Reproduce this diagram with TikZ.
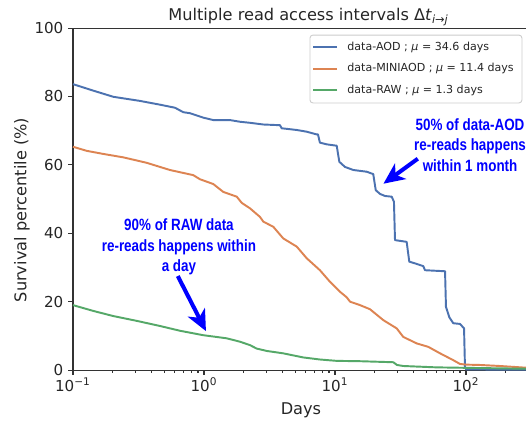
\documentclass[tikz,border=0pt]{standalone}
\usepackage{fontspec}
\setmainfont{DejaVu Sans}
\newfontfamily\notefont[FakeStretch=0.82]{Liberation Sans}
\usetikzlibrary{arrows.meta}

\definecolor{aodblue}{HTML}{4C72B0}
\definecolor{miniorange}{HTML}{DD8452}
\definecolor{rawgreen}{HTML}{55A868}
\definecolor{noteblue}{HTML}{0000FF}

\begin{document}
\begin{tikzpicture}[x=2.62cm, y=0.0684cm,
	spine/.style={draw=black!80, line width=0.6pt},
	curve/.style={line width=1.1pt, line join=round},
	ticklabel/.style={font=\fontsize{8.6}{10}\selectfont, text=black!85},
	axislabel/.style={font=\fontsize{9.2}{11}\selectfont, text=black!85},
	keytext/.style={anchor=west, inner sep=0pt, font=\fontsize{6.3}{7.5}\selectfont, text=black!85},
	note/.style={align=center, text=noteblue, font=\notefont\bfseries\fontsize{9.3}{11.7}\selectfont},
	notearrow/.style={draw=noteblue, line width=2.3pt, -{Stealth[length=0.42cm, width=0.38cm, inset=0.12cm]}}]
	\useasboundingbox[fill=white] (-0.557,-15.2) rectangle (3.458,108.2);

	% axes frame
	\draw[spine] (3.458,100) -- (0,100) -- (0,0) -- (3.458,0);
	\foreach \y in {0,20,...,100}{
		\draw[spine] (0,\y) -- ++(-0.1cm,0);
		\node[ticklabel, anchor=east, inner sep=1pt] (ytick\y) at ([xshift=-0.15cm]0,\y) {\y};
	}
	\foreach \e/\lab in {0/−1,1/0,2/1,3/2}{
		\draw[spine] (\e,0) -- ++(0,-0.1cm);
		\node[ticklabel, anchor=base, inner sep=0pt] (xtick\e) at (\e,-6.4) {10\textsuperscript{\lab}};
	}
	\foreach \d in {0,1,2,3}
		\foreach \k in {2,...,9}
			\draw[spine] ({\d+log10(\k)},0) -- ++(0,-0.06cm);

	\node[axislabel, anchor=base] (days) at (1.740,-12.87) {Days};
	\node[axislabel, rotate=90] (surv) at (-0.389,46.8) {Survival percentile (\%)};
	\node[axislabel, anchor=base] (title) at (1.798,102.3) {Multiple read access intervals Δ\textit{t}\textsubscript{\textit{i}→\textit{j}}};

	% survival curves
	\draw[curve, aodblue] plot coordinates {(0,83.6) (0.155,81.7) (0.308,79.9) (0.511,78.7) (0.664,77.6) (0.779,76.7) (0.842,75.4) (0.893,75.1) (0.995,73.8) (1.071,73.1) (1.198,73.1) (1.275,72.6) (1.351,72.3) (1.453,71.8) (1.580,71.6) (1.593,70.7) (1.708,70.2) (1.784,69.7) (1.860,68.9) (1.870,68.9) (1.885,66.5) (1.937,66.0) (2.013,65.6) (2.033,60.9) (2.076,59.4) (2.140,58.5) (2.242,58.0) (2.292,57.3) (2.311,52.6) (2.344,51.5) (2.382,50.9) (2.433,50.7) (2.450,49.2) (2.458,38.0) (2.547,37.5) (2.567,31.7) (2.611,31.2) (2.674,30.4) (2.687,29.2) (2.840,28.9) (2.847,18.5) (2.873,15.4) (2.903,13.7) (2.954,13.5) (2.985,12.2) (2.992,1.0) (3.0,0.2) (3.458,0.1)};
	\draw[curve, miniorange] plot coordinates {(0,65.3) (0.105,64.1) (0.231,63.2) (0.384,62.2) (0.563,60.6) (0.664,59.4) (0.740,58.5) (0.918,57.0) (0.969,55.8) (1.071,54.4) (1.147,52.1) (1.250,50.7) (1.288,48.9) (1.351,47.3) (1.427,44.8) (1.453,43.4) (1.529,41.9) (1.605,38.5) (1.708,36.1) (1.784,32.7) (1.885,29.2) (1.962,25.8) (2.038,22.9) (2.089,21.3) (2.115,20.0) (2.191,19.0) (2.267,17.8) (2.369,14.6) (2.471,12.2) (2.521,9.7) (2.624,7.8) (2.712,6.8) (2.802,4.9) (2.903,2.9) (2.954,1.8) (3.0,1.6) (3.107,1.5) (3.26,1.2) (3.458,0.7)};
	\draw[curve, rawgreen] plot coordinates {(0,19.0) (0.155,17.3) (0.308,15.8) (0.486,14.4) (0.664,12.9) (0.817,11.5) (0.995,10.2) (1.173,9.3) (1.275,8.3) (1.351,7.3) (1.402,6.3) (1.479,5.6) (1.605,4.9) (1.758,3.7) (1.885,3.1) (2.013,2.7) (2.191,2.6) (2.445,2.3) (2.473,1.5) (2.521,1.2) (2.776,0.8) (3.107,0.6) (3.458,0.4)};

	% legend
	\draw[draw=black!20, fill=white, rounded corners=0.06cm, line width=0.5pt] (1.809,78.1) rectangle (3.427,97.95);
	\node[keytext] (aodkey) at (2.092,94.4) {data-AOD ; \textit{μ} = 34.6 days};
	\node[keytext] (minikey) at (2.092,88.1) {data-MINIAOD ; \textit{μ} = 11.4 days};
	\node[keytext] (rawkey) at (2.092,81.9) {data-RAW ; \textit{μ} = 1.3 days};
	\draw[curve, aodblue] ([xshift=-0.2cm]aodkey.west) -- ++(-0.48cm,0);
	\draw[curve, miniorange] ([xshift=-0.2cm]minikey.west) -- ++(-0.48cm,0);
	\draw[curve, rawgreen] ([xshift=-0.2cm]rawkey.west) -- ++(-0.48cm,0);

	% notes
	\node[note] (aodnote) at (3.031,65.8) {50\% of data-AOD\\re-reads happens\\within 1 month};
	\node[note] (rawnote) at (0.809,36.05) {90\% of RAW data\\re-reads happens within\\a day};
	\coordinate (aodtail) at (2.632,61.8);
	\coordinate (aodtip) at (2.370,54.5);
	\coordinate (rawtail) at (0.80,27.5);
	\coordinate (rawtip) at (1.015,11.4);
	\draw[notearrow] (aodtail) -- (aodtip);
	\draw[notearrow] (rawtail) -- (rawtip);
\end{tikzpicture}
\end{document}
